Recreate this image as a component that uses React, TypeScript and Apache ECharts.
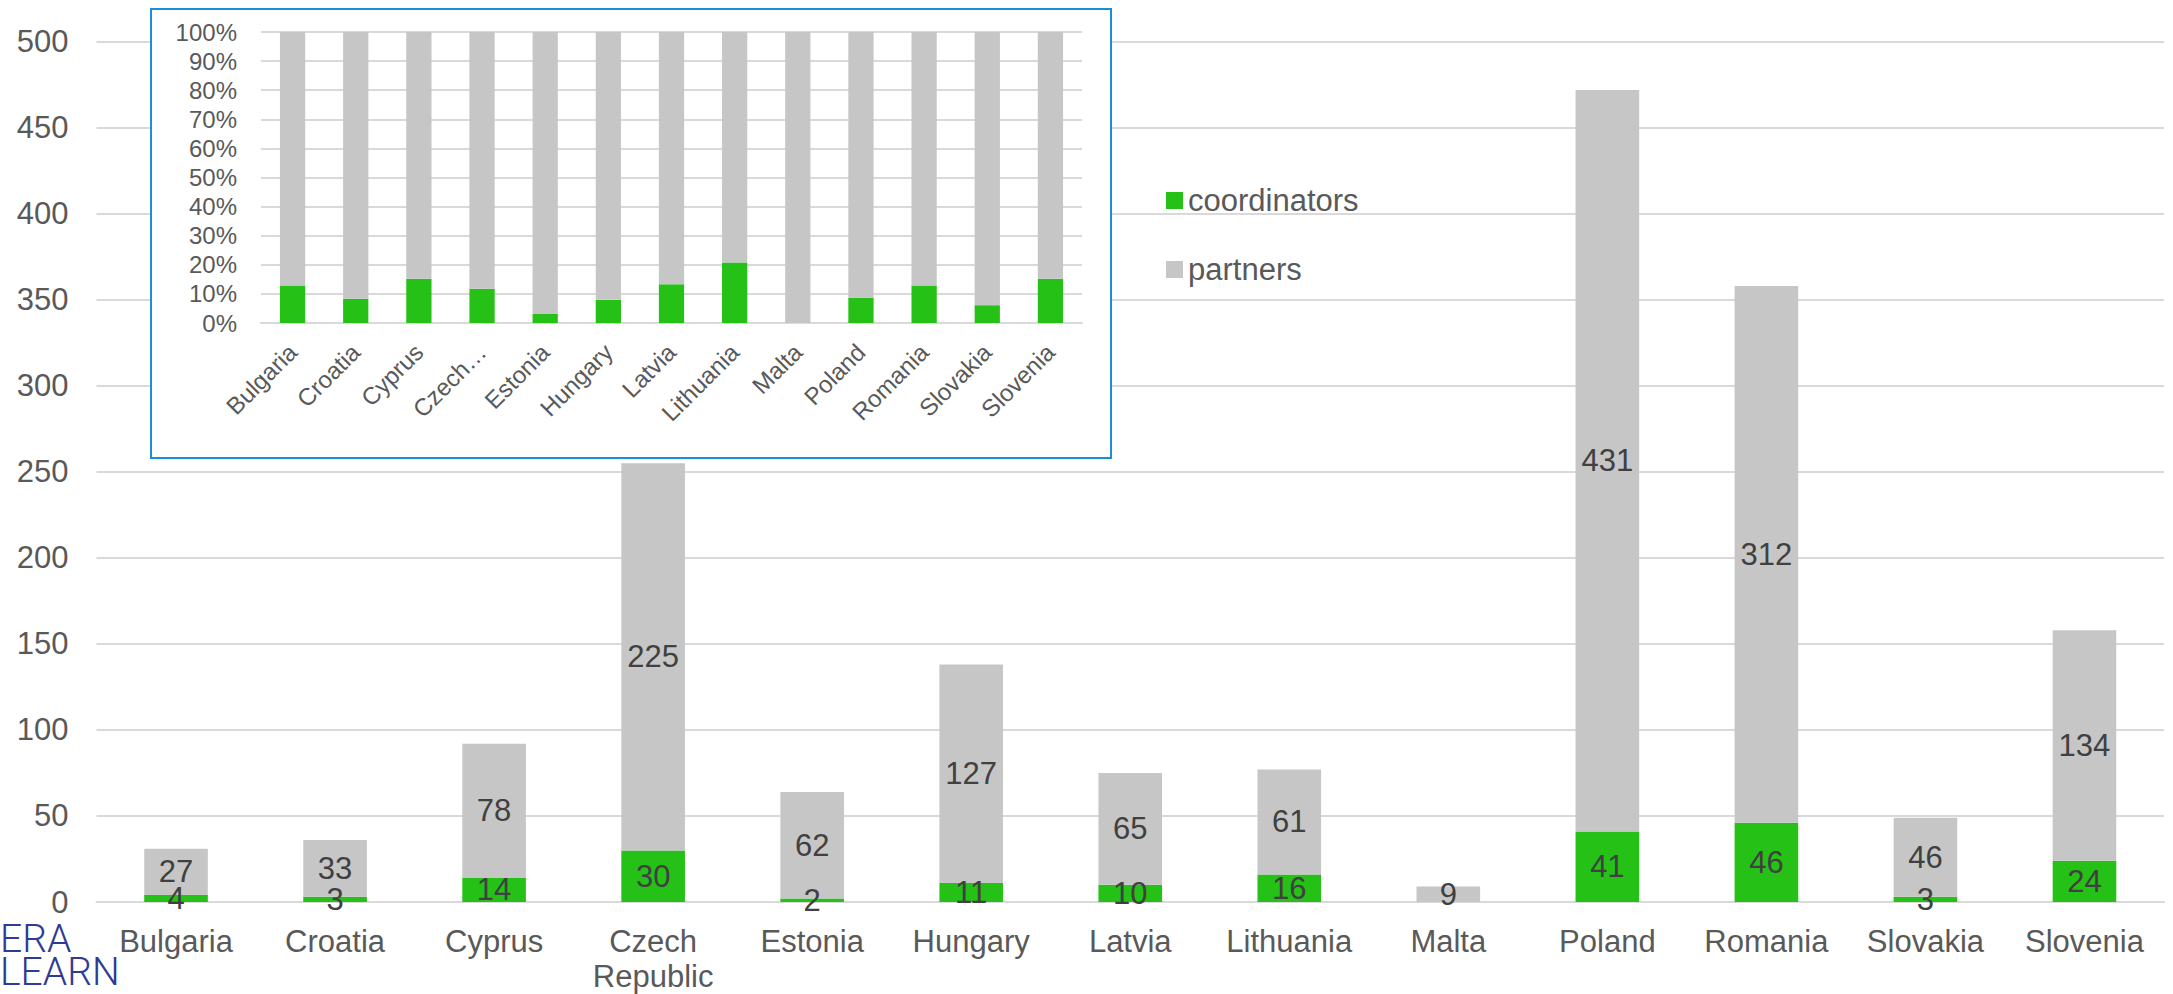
import React, { useEffect, useRef } from "react";
import * as echarts from "echarts";

const categories = [
  "Bulgaria", "Croatia", "Cyprus", "Czech Republic", "Estonia", "Hungary", "Latvia",
  "Lithuania", "Malta", "Poland", "Romania", "Slovakia", "Slovenia",
];
const coordinators = [4, 3, 14, 30, 2, 11, 10, 16, 0, 41, 46, 3, 24];
const partners = [27, 33, 78, 225, 62, 127, 65, 61, 9, 431, 312, 46, 134];
const seriesNames = ["coordinators", "partners"];
const colors = ["#25c116", "#c6c6c6"];

const FONT = 'Arial, "Liberation Sans", sans-serif';

export default function App() {
  const ref = useRef<HTMLDivElement>(null);
  useEffect(() => {
    document.body.style.margin = "0";
    const chart = echarts.init(ref.current!, null, { renderer: "svg" });
    const totals = coordinators.map((c, i) => c + partners[i]);
    const coordPct = coordinators.map((c, i) => (c / totals[i]) * 100);
    const partPct = partners.map((p, i) => (p / totals[i]) * 100);

    chart.setOption({
      animation: false,
      textStyle: { fontFamily: FONT },
      legend: {
        orient: "vertical",
        left: 1161,
        top: 180,
        itemGap: 38,
        itemWidth: 17,
        itemHeight: 17,
        icon: "rect",
        data: seriesNames,
        textStyle: { fontSize: 31, color: "#595959", fontFamily: FONT },
      },
      grid: [
        { left: 96.5, right: 9, top: 41.7, bottom: 92, outerBoundsMode: "none", containLabel: false },
        { left: 261, right: 1091, top: 32, height: 291, outerBoundsMode: "none", containLabel: false },
      ],
      xAxis: [
        {
          type: "category",
          gridIndex: 0,
          data: categories,
          z: 0,
          axisLine: { show: true, lineStyle: { color: "#d9d9d9", width: 2 } },
          axisTick: { show: false },
          axisLabel: {
            interval: 0,
            fontSize: 31,
            color: "#595959",
            lineHeight: 35,
            margin: 22,
            fontFamily: FONT,
            formatter: (v: string) => v.replace(" ", "\n"),
          },
        },
        {
          type: "category",
          gridIndex: 1,
          data: categories,
          z: 3,
          axisLine: { show: true, lineStyle: { color: "#d9d9d9", width: 2 } },
          axisTick: { show: false },
          axisLabel: {
            interval: 0,
            rotate: 45,
            fontSize: 24,
            color: "#595959",
            margin: 25,
            fontFamily: FONT,
            formatter: (v: string) => (v.length > 10 ? v.split(" ")[0] + "…" : v),
          },
        },
      ],
      yAxis: [
        {
          type: "value",
          gridIndex: 0,
          min: 0,
          max: 500,
          interval: 50,
          z: 0,
          axisLine: { show: false },
          axisTick: { show: false },
          splitLine: { lineStyle: { color: "#d9d9d9", width: 2 } },
          axisLabel: { fontSize: 31, color: "#595959", margin: 28, fontFamily: FONT },
        },
        {
          type: "value",
          gridIndex: 1,
          min: 0,
          max: 100,
          interval: 10,
          z: 3,
          axisLine: { show: false },
          axisTick: { show: false },
          splitLine: { lineStyle: { color: "#d9d9d9", width: 2 } },
          axisLabel: { fontSize: 24, color: "#595959", margin: 24, formatter: "{value}%", fontFamily: FONT },
        },
      ],
      graphic: [
        {
          type: "rect",
          z: 1,
          shape: { x: 151, y: 9, width: 960, height: 449 },
          style: { fill: "#ffffff", stroke: "#1a8fd8", lineWidth: 2 },
        },
        {
          type: "text",
          z: 5,
          x: 0,
          y: 939,
          style: { text: "ERA", fontSize: 39, lineHeight: 32, fontWeight: 300, fill: "#2e3a94", fontFamily: "Roboto, sans-serif", verticalAlign: "middle", align: "left" },
        },
        {
          type: "text",
          z: 5,
          x: 0,
          y: 972,
          style: { text: "LEARN", fontSize: 39, lineHeight: 32, fontWeight: 300, fill: "#2e3a94", fontFamily: "Roboto, sans-serif", verticalAlign: "middle", align: "left" },
        },
      ],
      series: [
        {
          name: seriesNames[0],
          type: "bar",
          stack: "main",
          xAxisIndex: 0,
          yAxisIndex: 0,
          barWidth: "40%",
          data: coordinators,
          itemStyle: { color: colors[0] },
          label: {
            show: true,
            position: "inside",
            fontSize: 31,
            color: "#404040",
            fontFamily: FONT,
            formatter: (p: any) => (p.value === 0 ? "" : String(p.value)),
          },
        },
        {
          name: seriesNames[1],
          type: "bar",
          stack: "main",
          xAxisIndex: 0,
          yAxisIndex: 0,
          barWidth: "40%",
          data: partners,
          itemStyle: { color: colors[1] },
          label: {
            show: true,
            position: "inside",
            fontSize: 31,
            color: "#404040",
            fontFamily: FONT,
            formatter: (p: any) => (p.value === 0 ? "" : String(p.value)),
          },
        },
        {
          name: seriesNames[0],
          type: "bar",
          stack: "inset",
          xAxisIndex: 1,
          yAxisIndex: 1,
          barWidth: "40%",
          z: 4,
          data: coordPct,
          itemStyle: { color: colors[0] },
        },
        {
          name: seriesNames[1],
          type: "bar",
          stack: "inset",
          xAxisIndex: 1,
          yAxisIndex: 1,
          barWidth: "40%",
          z: 4,
          data: partPct,
          itemStyle: { color: colors[1] },
        },
      ],
    });
    return () => chart.dispose();
  }, []);
  return <div ref={ref} style={{ width: 2173, height: 994 }} />;
}
